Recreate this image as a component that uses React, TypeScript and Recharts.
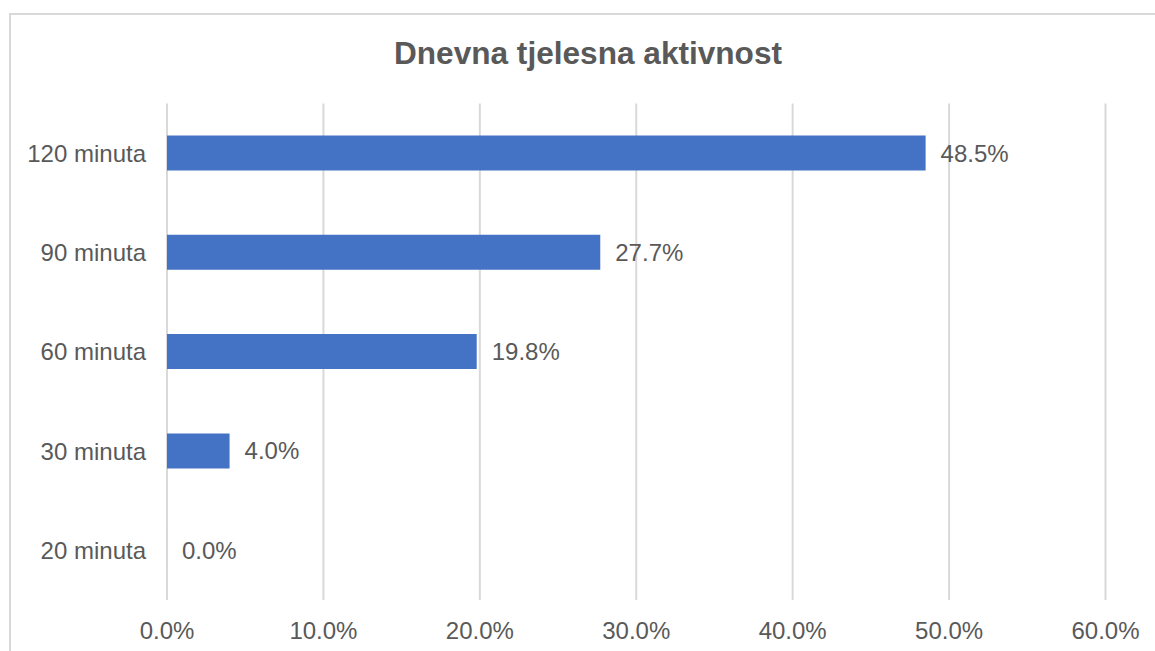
import React from "react";
import { BarChart, Bar, XAxis, YAxis, CartesianGrid, LabelList } from "recharts";

const categories = ["120 minuta", "90 minuta", "60 minuta", "30 minuta", "20 minuta"];
const values = [48.5, 27.7, 19.8, 4.0, 0.0];
const xTicks = [0, 10, 20, 30, 40, 50, 60];
const title = "Dnevna tjelesna aktivnost";

const data = categories.map((c, i) => ({ name: c, value: values[i] }));

const FONT = "'Liberation Sans', Arial, sans-serif";
const TEXT = "#595959";

export default function App() {
  return (
    <div
      style={{
        position: "absolute",
        left: 0,
        top: 0,
        width: 1155,
        height: 651,
        overflow: "hidden",
        background: "#fff",
        fontFamily: FONT,
      }}
    >
      <div
        style={{
          position: "absolute",
          left: 9,
          top: 13,
          width: 1300,
          height: 800,
          border: "2px solid #d9d9d9",
          boxSizing: "border-box",
        }}
      />
      <div style={{ position: "absolute", left: 0, top: 0 }}>
        <BarChart
          width={1155}
          height={651}
          data={data}
          layout="vertical"
          margin={{ top: 103.5, right: 49.5, bottom: 21, left: 0 }}
        >
          <CartesianGrid horizontal={false} stroke="#d9d9d9" strokeWidth={2} />
          <XAxis
            type="number"
            domain={[0, 60]}
            ticks={xTicks}
            axisLine={false}
            tickLine={false}
            tickSize={0}
            tickMargin={22}
            height={30}
            interval={0}
            tickFormatter={(v: number) => v.toFixed(1) + "%"}
            tick={{ fill: TEXT, fontSize: 24, fontFamily: FONT }}
          />
          <YAxis
            type="category"
            dataKey="name"
            width={167}
            axisLine={false}
            tickLine={false}
            tickSize={0}
            tickMargin={21}
            tick={{ fill: TEXT, fontSize: 24, fontFamily: FONT }}
          />
          <Bar
            dataKey="value"
            fill="#4472C4"
            barSize={35}
            minPointSize={0.01}
            isAnimationActive={false}
          >
            <LabelList
              dataKey="value"
              position="right"
              offset={15}
              formatter={(v: number) => Number(v).toFixed(1) + "%"}
              style={{ fill: TEXT, fontSize: 24, fontFamily: FONT }}
            />
          </Bar>
        </BarChart>
      </div>
      <div
        style={{
          position: "absolute",
          left: 0,
          top: 38,
          width: 1176,
          textAlign: "center",
          fontSize: 31.6,
          lineHeight: "31.6px",
          fontWeight: "bold",
          color: TEXT,
          fontFamily: FONT,
          whiteSpace: "nowrap",
        }}
      >
        {title}
      </div>
    </div>
  );
}
